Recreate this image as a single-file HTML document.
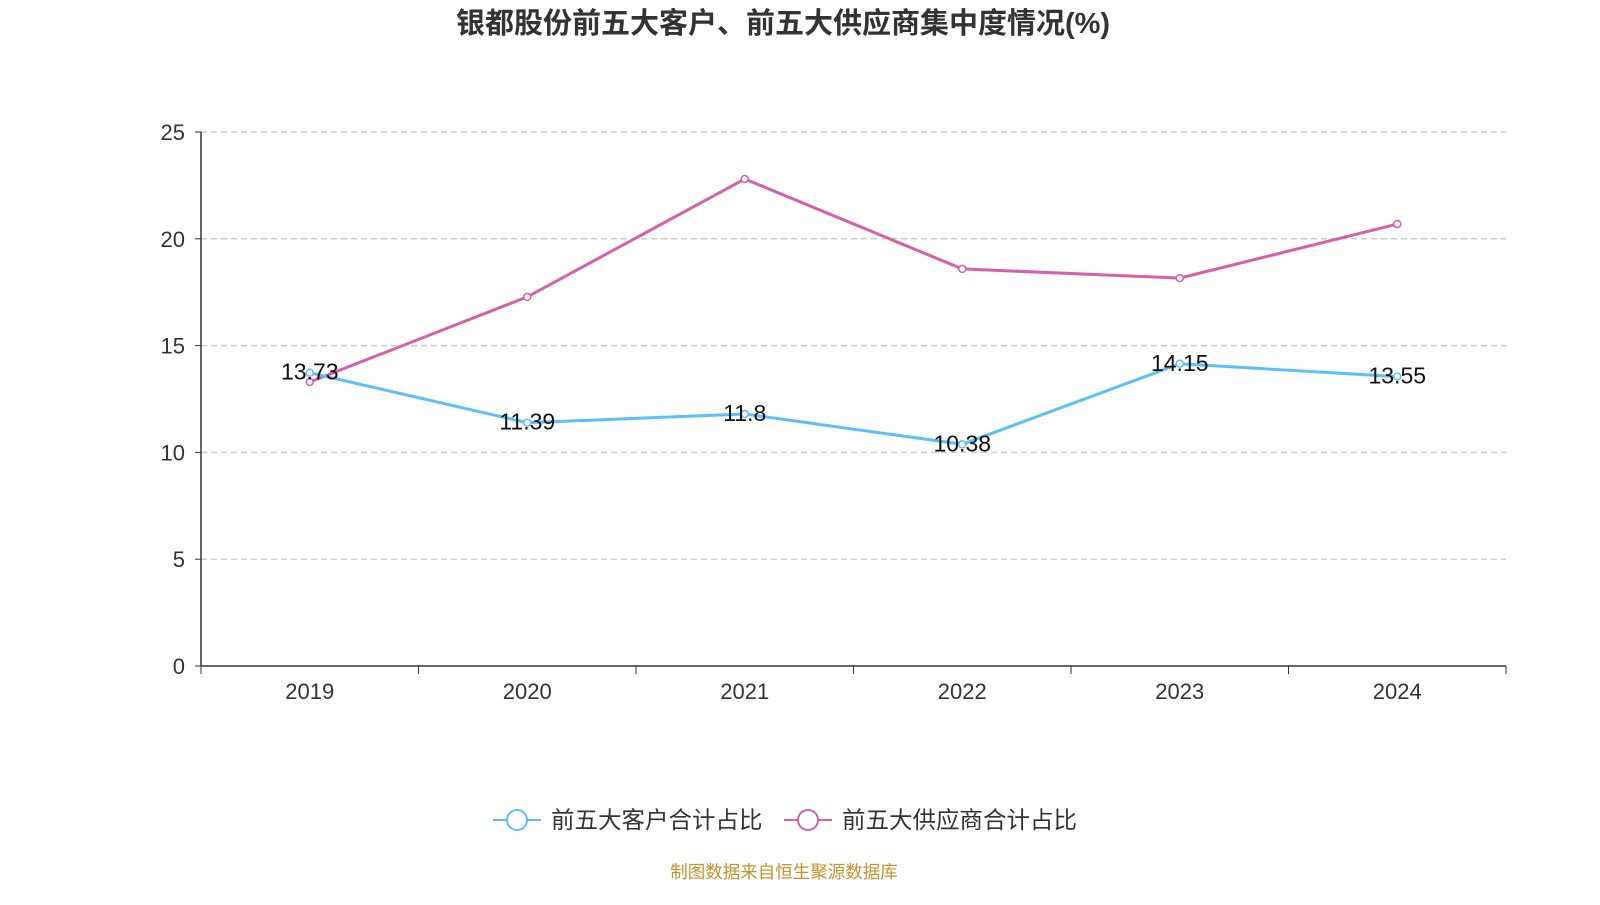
<!DOCTYPE html>
<html><head><meta charset="utf-8"><style>
body{margin:0;background:#fff;width:1600px;height:900px;overflow:hidden;font-family:"Liberation Sans","Noto Sans CJK SC",sans-serif}
</style></head><body>
<svg id="c" width="1600" height="900" font-family="Liberation Sans, Noto Sans CJK SC, sans-serif">
<text x="783" y="33" text-anchor="middle" font-size="29" font-weight="bold" fill="#333">银都股份前五大客户、前五大供应商集中度情况(%)</text>
<g id="grid"></g><g id="axes"></g><g id="series"></g>
<g>
<g>
<line x1="493" y1="820" x2="541" y2="820" stroke="#5bc0f8" stroke-width="2"/><circle cx="517" cy="820" r="10" fill="#fff" stroke="#5bc0f8" stroke-width="2"/>
<text x="551" y="828" font-size="23.5" fill="#333">前五大客户合计占比</text></g>
<g>
<line x1="784" y1="820" x2="832" y2="820" stroke="#d660a8" stroke-width="2"/><circle cx="808" cy="820" r="10" fill="#fff" stroke="#d660a8" stroke-width="2"/>
<text x="842" y="828" font-size="23.5" fill="#333">前五大供应商合计占比</text></g>
</g>
<text x="784" y="878" text-anchor="middle" font-size="17.5" fill="#c8902a">制图数据来自恒生聚源数据库</text>
</svg>
<script>
const categories=["2019","2020","2021","2022","2023","2024"];
const customers=[13.73,11.39,11.8,10.38,14.15,13.55];
const suppliers=[13.3,17.28,22.8,18.59,18.16,20.69];
const yTicks=[0,5,10,15,20,25];
const NS="http://www.w3.org/2000/svg";
const x0=201,x1=1506,yTop=132,yBot=666;
const step=(x1-x0)/categories.length;
const xs=i=>x0+step*(i+0.5);
const ys=v=>yBot-(v/25)*(yBot-yTop);
function mk(t,a,p){const e=document.createElementNS(NS,t);for(const k in a)e.setAttribute(k,a[k]);p.appendChild(e);return e;}
const grid=document.getElementById('grid'),axes=document.getElementById('axes'),ser=document.getElementById('series');
yTicks.forEach(v=>{
 if(v>0){const l=mk('line',{x1:x0,x2:x1,y1:ys(v),y2:ys(v),stroke:'#ccc','stroke-dasharray':'6,4','stroke-width':1.5},grid);
 
 }
 const t=mk('text',{x:185,y:ys(v)+8,'text-anchor':'end','font-size':22,fill:'#333'},axes);t.textContent=v;
 
 
 mk('line',{x1:195,x2:x0,y1:ys(v),y2:ys(v),stroke:'#333'},axes);
});
mk('line',{x1:x0,x2:x0,y1:yTop,y2:yBot,stroke:'#333','stroke-width':1.5},axes);
mk('line',{x1:x0,x2:x1,y1:yBot,y2:yBot,stroke:'#333','stroke-width':1.5},axes);
for(let i=0;i<=categories.length;i++)mk('line',{x1:x0+step*i,x2:x0+step*i,y1:yBot,y2:yBot+8,stroke:'#333'},axes);
categories.forEach((c,i)=>{const t=mk('text',{x:xs(i),y:699,'text-anchor':'middle','font-size':22,fill:'#333'},axes);t.textContent=c;
 
 });
function draw(vals,color,name,labels){
 const p=mk('polyline',{points:vals.map((v,i)=>xs(i)+','+ys(v)).join(' '),fill:'none',stroke:color,'stroke-width':3},ser);
 
 
 vals.forEach((v,i)=>{const c=mk('circle',{cx:xs(i),cy:ys(v),r:3.5,fill:'#fff',stroke:color,'stroke-width':1.5},ser);
  
  
  if(labels){const t=mk('text',{x:xs(i),y:ys(v)+7,'text-anchor':'middle','font-size':23,fill:'#111'},ser);t.textContent=v;
  
  }});
}
draw(suppliers,'#d660a8','suppliers',false);
draw(customers,'#5bc0f8','customers',true);
</script>
</body></html>
